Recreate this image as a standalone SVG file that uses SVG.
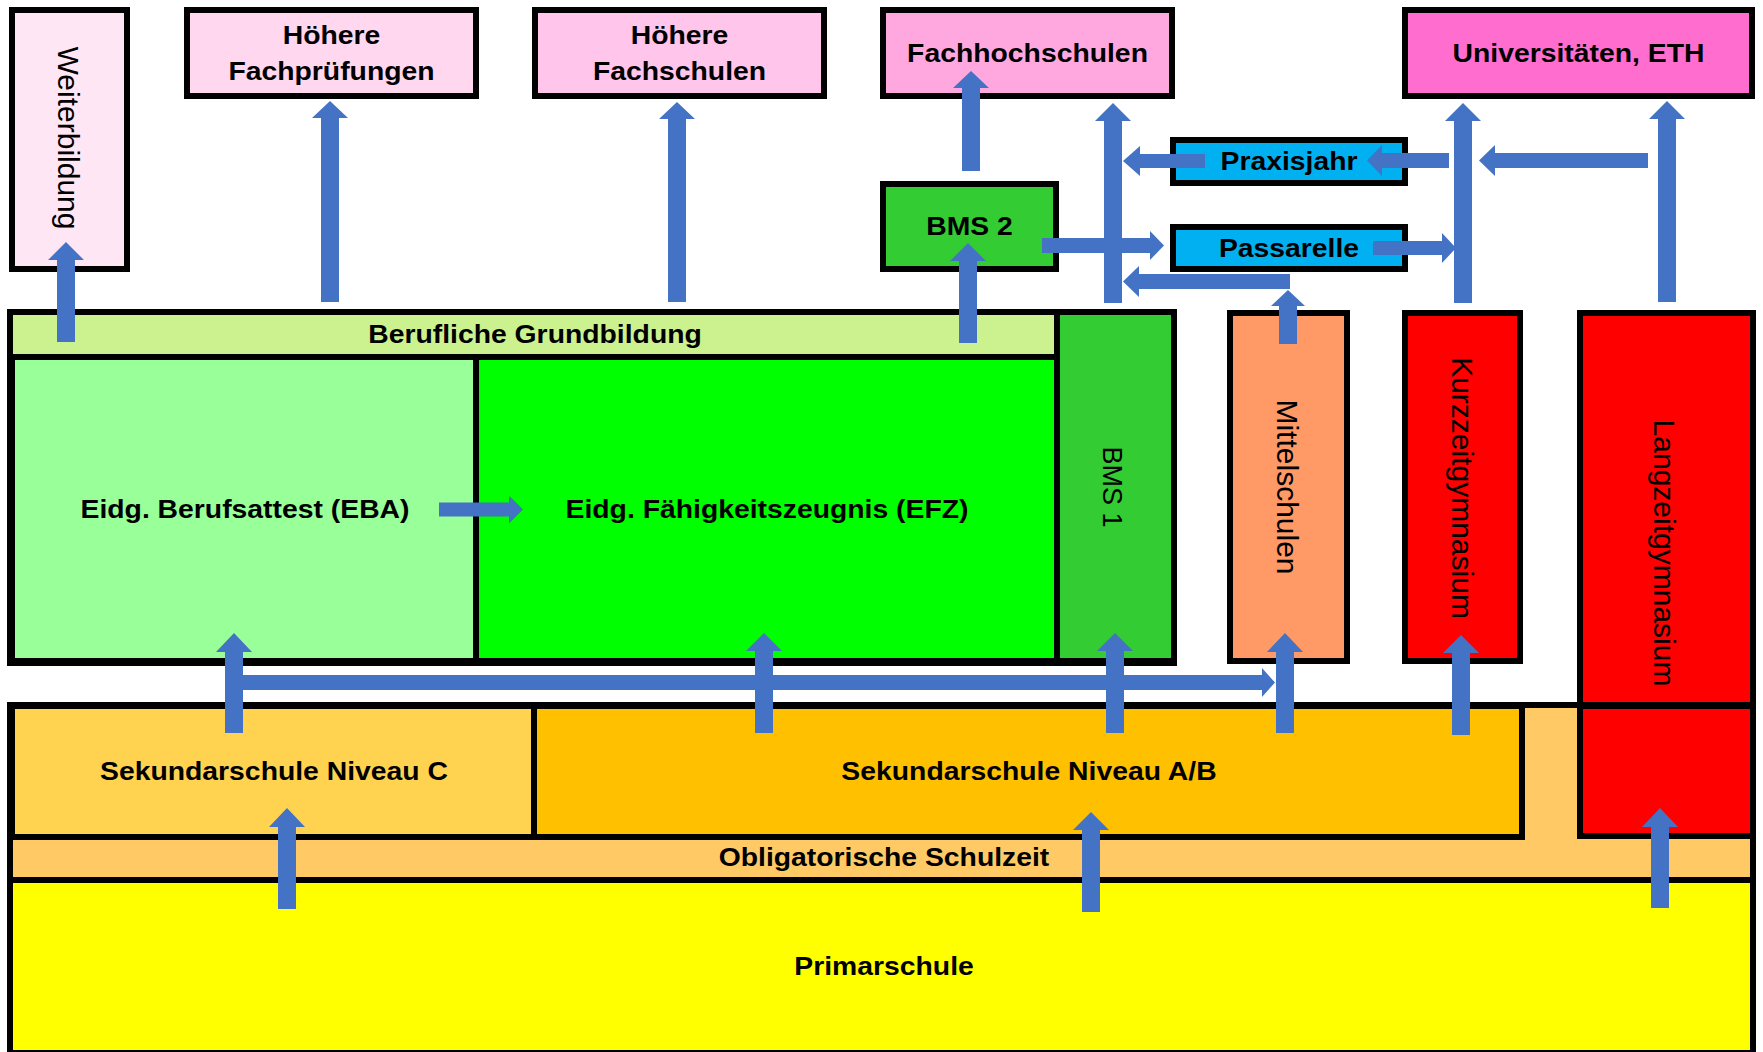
<svg xmlns="http://www.w3.org/2000/svg" width="1763" height="1052" viewBox="0 0 1763 1052">
<style>
.box{stroke:#000;stroke-width:6}
.h{font-family:"Liberation Sans",Arial,sans-serif;font-weight:bold;font-size:26px;text-anchor:middle;fill:#000}
.v{font-family:"Liberation Sans",Arial,sans-serif;font-size:30px;text-anchor:middle;fill:#000}
.arr{fill:#4472C4}
</style>
<rect width="1763" height="1052" fill="#fff"/>

<g id="weiterbildung">
<rect class="box" x="12" y="10" width="115" height="259" fill="#FFE6F5"/>
<text class="v" transform="translate(58,138) rotate(90)">Weiterbildung</text>
</g>
<g id="hoehere-fachpruefungen">
<rect class="box" x="187" y="10" width="289" height="86" fill="#FFD7EF"/>
<text class="h" transform="translate(331.5,44) scale(1.09,1)">Höhere</text>
<text class="h" transform="translate(331.5,80) scale(1.09,1)">Fachprüfungen</text>
</g>
<g id="hoehere-fachschulen">
<rect class="box" x="535" y="10" width="289" height="86" fill="#FFC5EA"/>
<text class="h" transform="translate(679.5,44) scale(1.09,1)">Höhere</text>
<text class="h" transform="translate(679.5,80) scale(1.09,1)">Fachschulen</text>
</g>
<g id="fachhochschulen">
<rect class="box" x="883" y="10" width="289" height="86" fill="#FFA8E0"/>
<text class="h" transform="translate(1027.5,62) scale(1.09,1)">Fachhochschulen</text>
</g>
<g id="universitaeten">
<rect class="box" x="1405" y="10" width="347" height="86" fill="#FF6DCF"/>
<text class="h" transform="translate(1578.5,62) scale(1.09,1)">Universitäten, ETH</text>
</g>
<g id="bms2">
<rect class="box" x="883" y="184" width="173" height="85" fill="#33CC33"/>
<text class="h" transform="translate(969.5,235) scale(1.09,1)">BMS 2</text>
</g>
<g id="praxisjahr">
<rect class="box" x="1173" y="140" width="232" height="43" fill="#00B0F0"/>
<text class="h" transform="translate(1289,170) scale(1.09,1)">Praxisjahr</text>
</g>
<g id="passarelle">
<rect class="box" x="1173" y="227" width="232" height="42" fill="#00B0F0"/>
<text class="h" transform="translate(1289,257) scale(1.09,1)">Passarelle</text>
</g>

<g id="berufliche-grundbildung">
<rect class="box" x="10" y="312" width="1164" height="351" fill="#CCF290"/>
<text class="h" transform="translate(535,343) scale(1.09,1)">Berufliche Grundbildung</text>
</g>
<g id="eba">
<rect class="box" x="12" y="357" width="464" height="304" fill="#99FF99"/>
<text class="h" transform="translate(245,518) scale(1.09,1)">Eidg. Berufsattest (EBA)</text>
</g>
<g id="efz">
<rect class="box" x="476" y="357" width="581" height="304" fill="#00FF00"/>
<text class="h" transform="translate(767,518) scale(1.09,1)">Eidg. Fähigkeitszeugnis (EFZ)</text>
</g>
<g id="bms1">
<rect class="box" x="1057" y="312" width="117" height="349" fill="#33CC33"/>
<text class="v" style="font-size:27px" transform="translate(1103,487) rotate(90)">BMS 1</text>
</g>
<g id="mittelschulen">
<rect class="box" x="1230" y="313" width="117" height="348" fill="#FF9966"/>
<text class="v" transform="translate(1277,487) rotate(90)">Mittelschulen</text>
</g>
<g id="kurzzeitgymnasium">
<rect class="box" x="1405" y="313" width="115" height="348" fill="#FF0000"/>
<text class="v" transform="translate(1452,488) rotate(90)">Kurzzeitgymnasium</text>
</g>

<g id="obligatorische-schulzeit">
<rect class="box" x="10" y="705" width="1743" height="348" fill="#FFCA65"/>
<text class="h" transform="translate(884,866) scale(1.09,1)">Obligatorische Schulzeit</text>
</g>
<g id="langzeitgymnasium">
<rect class="box" x="1580" y="313" width="173" height="523" fill="#FF0000"/>
<rect x="1577" y="702" width="179" height="7" fill="#000"/>
<text class="v" transform="translate(1654,553) rotate(90)">Langzeitgymnasium</text>
</g>
<g id="sek-c">
<rect class="box" x="12" y="706" width="522" height="131" fill="#FFD34F"/>
<text class="h" transform="translate(274,780) scale(1.09,1)">Sekundarschule Niveau C</text>
</g>
<g id="sek-ab">
<rect class="box" x="534" y="706" width="988" height="131" fill="#FFC000"/>
<text class="h" transform="translate(1029,780) scale(1.09,1)">Sekundarschule Niveau A/B</text>
</g>
<g id="primarschule">
<rect class="box" x="10" y="880" width="1743" height="173" fill="#FFFF00"/>
<text class="h" transform="translate(884,975) scale(1.09,1)">Primarschule</text>
</g>

<g id="connectors" class="arr">
<!-- vertical up arrows: cx, tip, base, bottom -->
<polygon points="66,242 84,260 75,260 75,342 57,342 57,260 48,260"/>
<polygon points="330,101 348,118 339,118 339,302 321,302 321,118 312,118"/>
<polygon points="677,102 695,119 686,119 686,302 668,302 668,119 659,119"/>
<polygon points="971,71 989,88 980,88 980,171 962,171 962,88 953,88"/>
<polygon points="968,243 986,261 977,261 977,343 959,343 959,261 950,261"/>
<polygon points="1113,103 1131,121 1122,121 1122,303 1104,303 1104,121 1095,121"/>
<polygon points="1463,103 1481,121 1472,121 1472,303 1454,303 1454,121 1445,121"/>
<polygon points="1667,101 1685,119 1676,119 1676,302 1658,302 1658,119 1649,119"/>
<polygon points="1288,290 1305,306 1297,306 1297,344 1279,344 1279,306 1271,306"/>
<polygon points="234,633 252,652 243,652 243,733 225,733 225,652 216,652"/>
<polygon points="764,633 782,651 773,651 773,733 755,733 755,651 746,651"/>
<polygon points="1115,633 1133,651 1124,651 1124,733 1106,733 1106,651 1097,651"/>
<polygon points="1285,633 1303,652 1294,652 1294,733 1276,733 1276,652 1267,652"/>
<polygon points="1461,635 1479,653 1470,653 1470,735 1452,735 1452,653 1443,653"/>
<polygon points="287,808 305,827 296,827 296,909 278,909 278,827 269,827"/>
<polygon points="1091,812 1109,830 1100,830 1100,912 1082,912 1082,830 1073,830"/>
<polygon points="1660,808 1678,827 1669,827 1669,908 1651,908 1651,827 1642,827"/>
<!-- horizontal arrows -->
<polygon points="523,509.5 509,495.5 509,502.5 439,502.5 439,516.5 509,516.5 509,523.5"/>
<polygon points="1123,161 1140,146 1140,154 1205,154 1205,168 1140,168 1140,176"/>
<polygon points="1367,160.5 1382,145 1382,153 1449,153 1449,168 1382,168 1382,176"/>
<polygon points="1479,160.5 1495,145 1495,153 1648,153 1648,168 1495,168 1495,176"/>
<polygon points="1164,245.5 1150,231 1150,238 1042,238 1042,253 1150,253 1150,260"/>
<polygon points="1456,248 1442,233 1442,241 1373,241 1373,255 1442,255 1442,263"/>
<polygon points="1123,281.5 1139,266 1139,274 1290,274 1290,289 1139,289 1139,297"/>
<polygon points="1275,682.5 1262,668 1262,675 225,675 225,690 1262,690 1262,697"/>
</g>
</svg>
